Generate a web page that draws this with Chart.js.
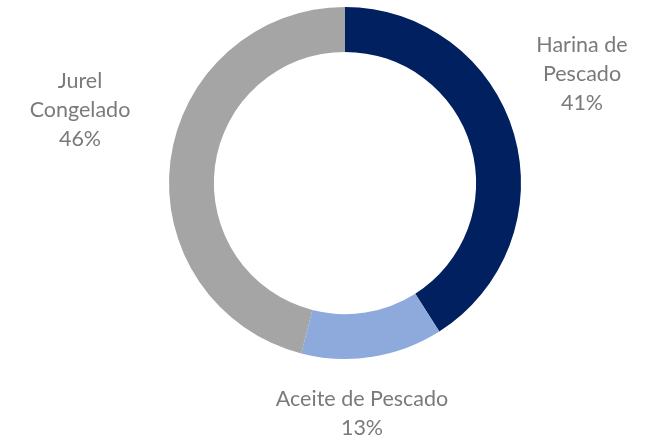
<!DOCTYPE html>
<html>
<head>
<meta charset="utf-8">
<script src="https://cdn.jsdelivr.net/npm/chart.js@4"></script>
<style>
html,body{margin:0;padding:0;background:#fff;}
#wrap{width:657px;height:440px;position:relative;}
</style>
</head>
<body>
<div id="wrap"><canvas id="c" width="657" height="440"></canvas></div>
<script>
const categories = ["Harina de Pescado", "Aceite de Pescado", "Jurel Congelado"];
const labelLines = [["Harina de", "Pescado"], ["Aceite de Pescado"], ["Jurel", "Congelado"]];
const values = [41, 13, 46];
const colors = ["#002060", "#8EA9DB", "#A5A5A5"];
// label anchor offsets from chart centre (layout only)
const labelOffsets = [[237, -109], [17, 231], [-265, -73]];

const labelPlugin = {
  id: 'sliceLabels',
  afterDatasetsDraw(chart) {
    const ctx = chart.ctx;
    const meta = chart.getDatasetMeta(0);
    const total = values.reduce((a, b) => a + b, 0);
    ctx.save();
    ctx.font = '21.5px Lato, "Open Sans", sans-serif';
    ctx.fillStyle = '#7A7A7A';
    ctx.textAlign = 'center';
    ctx.textBaseline = 'middle';
    const lh = 29;
    meta.data.forEach((arc, i) => {
      const cx = arc.x, cy = arc.y;
      const lines = labelLines[i].concat([Math.round(values[i] / total * 100) + '%']);
      const x = cx + labelOffsets[i][0];
      const yc = cy + labelOffsets[i][1];
      const y0 = yc - (lines.length - 1) * lh / 2;
      lines.forEach((t, k) => ctx.fillText(t, x, y0 + k * lh));
    });
    ctx.restore();
  }
};

new Chart(document.getElementById('c'), {
  type: 'doughnut',
  data: {
    labels: categories,
    datasets: [{
      data: values,
      backgroundColor: colors,
      borderWidth: 0
    }]
  },
  options: {
    responsive: false,
    animation: false,
    cutout: '74.5%',
    layout: { padding: { left: 33, right: 0, top: 7, bottom: 81 } },
    plugins: { legend: { display: false }, tooltip: { enabled: false } }
  },
  plugins: [labelPlugin]
});
</script>
</body>
</html>
